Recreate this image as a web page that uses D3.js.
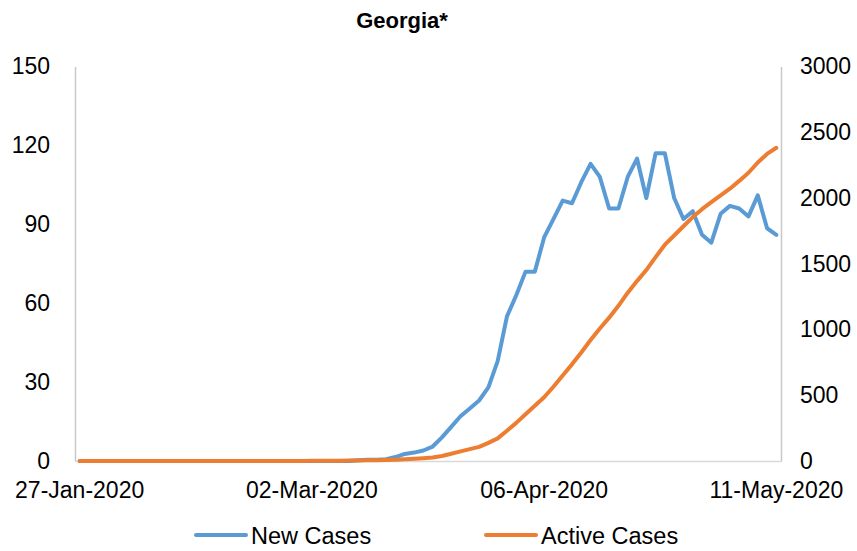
<!DOCTYPE html>
<html>
<head>
<meta charset="utf-8">
<script src="https://cdn.jsdelivr.net/npm/d3@7"></script>
<style>
  html, body { margin: 0; padding: 0; background: #fff; }
  svg text { font-family: "Liberation Sans", Arial, sans-serif; fill: #000; }
</style>
</head>
<body>
<svg id="chart" width="857" height="551"></svg>
<script>
// Weekday categories 27-Jan-2020 .. 11-May-2020
const dates = [
  "27-Jan-2020","28-Jan-2020","29-Jan-2020","30-Jan-2020","31-Jan-2020",
  "03-Feb-2020","04-Feb-2020","05-Feb-2020","06-Feb-2020","07-Feb-2020",
  "10-Feb-2020","11-Feb-2020","12-Feb-2020","13-Feb-2020","14-Feb-2020",
  "17-Feb-2020","18-Feb-2020","19-Feb-2020","20-Feb-2020","21-Feb-2020",
  "24-Feb-2020","25-Feb-2020","26-Feb-2020","27-Feb-2020","28-Feb-2020",
  "02-Mar-2020","03-Mar-2020","04-Mar-2020","05-Mar-2020","06-Mar-2020",
  "09-Mar-2020","10-Mar-2020","11-Mar-2020","12-Mar-2020","13-Mar-2020",
  "16-Mar-2020","17-Mar-2020","18-Mar-2020","19-Mar-2020","20-Mar-2020",
  "23-Mar-2020","24-Mar-2020","25-Mar-2020","26-Mar-2020","27-Mar-2020",
  "30-Mar-2020","31-Mar-2020","01-Apr-2020","02-Apr-2020","03-Apr-2020",
  "06-Apr-2020","07-Apr-2020","08-Apr-2020","09-Apr-2020","10-Apr-2020",
  "13-Apr-2020","14-Apr-2020","15-Apr-2020","16-Apr-2020","17-Apr-2020",
  "20-Apr-2020","21-Apr-2020","22-Apr-2020","23-Apr-2020","24-Apr-2020",
  "27-Apr-2020","28-Apr-2020","29-Apr-2020","30-Apr-2020","01-May-2020",
  "04-May-2020","05-May-2020","06-May-2020","07-May-2020","08-May-2020",
  "11-May-2020"
];

const newCases = [
  0,0,0,0,0, 0,0,0,0,0, 0,0,0,0,0, 0,0,0,0,0,
  0,0,0,0,0, 0,0,0,0,0, 0.3,0.5,0.5,0.7,1.5,
  2.7,3.2,4,5.5,9, 13,17,20,23,28,
  38,55,63,72,72, 85,92,99,98,106,
  113,108,96,96,108, 115,100,117,117,100,
  92,95,86,83,94, 97,96,93,101,88.5,
  86
];

const activeCases = [
  0,0,0,0,0, 0,0,0,0,0, 0,0,0,0,0, 0,0,0,0,0,
  0,0,0,0,0, 1,1,2,2,3, 4,5,6,8,10,
  13,17,21,26,38, 55,73,90,107,138,
  172,230,290,355,420, 485,565,650,735,825,
  920,1008,1090,1180,1280, 1368,1452,1550,1645,1715,
  1785,1855,1915,1969,2020, 2071,2130,2192,2270,2335,
  2382
];

const leftTicks = [0, 30, 60, 90, 120, 150];
const rightTicks = [0, 500, 1000, 1500, 2000, 2500, 3000];
const xLabelIdx = [0, 25, 50, 75];

const seriesNames = ["New Cases", "Active Cases"];
const colors = ["#5B9BD5", "#ED7D31"];

const svg = d3.select("#chart");
const L = 75, R = 781, T = 66.5, B = 461;

const x = d3.scaleBand().domain(dates).range([L, R]).paddingInner(0).paddingOuter(0);
const xc = d => x(d) + x.bandwidth() / 2;
const yL = d3.scaleLinear().domain([0, 150]).range([B, T]);
const yR = d3.scaleLinear().domain([0, 3000]).range([B, T]);

// Title
svg.append("text").attr("x", 402).attr("y", 28).attr("text-anchor", "middle")
  .style("font-size", "22px").style("font-weight", "bold").text("Georgia*");

// Axes
const axisL = svg.append("g").attr("transform", `translate(${L},0)`)
  .call(d3.axisLeft(yL).tickValues(leftTicks).tickSize(0).tickPadding(25));
const axisR = svg.append("g").attr("transform", `translate(${R},0)`)
  .call(d3.axisRight(yR).tickValues(rightTicks).tickFormat(d3.format("d")).tickSize(0).tickPadding(19));
const axisB = svg.append("g").attr("transform", `translate(0,${B})`)
  .call(d3.axisBottom(x).tickValues(xLabelIdx.map(i => dates[i])).tickSize(0).tickPadding(21));

[axisL, axisR, axisB].forEach(g => {
  g.select(".domain").attr("stroke", "#C8C8C8").attr("stroke-width", 1.5);
  g.selectAll("text").style("font-size", "23px").attr("fill", "#000")
    .style("font-family", '"Liberation Sans", Arial, sans-serif');
});
axisB.select(".domain").attr("stroke", "#D9D9D9");

// Lines
const lineL = d3.line().x((d, i) => xc(dates[i])).y(d => yL(d));
const lineR = d3.line().x((d, i) => xc(dates[i])).y(d => yR(d));

svg.append("path").datum(newCases).attr("d", lineL)
  .attr("fill", "none").attr("stroke", colors[0]).attr("stroke-width", 4)
  .attr("stroke-linejoin", "round").attr("stroke-linecap", "round");
svg.append("path").datum(activeCases).attr("d", lineR)
  .attr("fill", "none").attr("stroke", colors[1]).attr("stroke-width", 4)
  .attr("stroke-linejoin", "round").attr("stroke-linecap", "round");

// Legend
const legendX = [196, 486];
seriesNames.forEach((name, i) => {
  const g = svg.append("g").attr("transform", `translate(${legendX[i]},535)`);
  g.append("line").attr("x1", 0).attr("x2", 50).attr("y1", 0).attr("y2", 0)
    .attr("stroke", colors[i]).attr("stroke-width", 4).attr("stroke-linecap", "round");
  g.append("text").attr("x", 55).attr("y", 8.5).style("font-size", "23.5px").text(name);
});
</script>
</body>
</html>
